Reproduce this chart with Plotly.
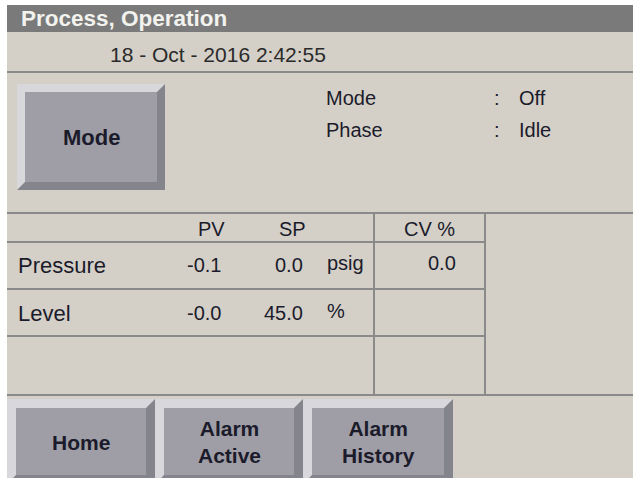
import plotly.graph_objects as go

# ---------------- data ----------------
title_text = "Process, Operation"
timestamp = "18 - Oct - 2016 2:42:55"
mode_button_label = "Mode"
status_labels = ["Mode", "Phase"]
status_values = ["Off", "Idle"]
table_columns = ["PV", "SP", "CV %"]
row_labels = ["Pressure", "Level"]
pv_values = [-0.1, -0.0]
sp_values = [0.0, 45.0]
row_units = ["psig", "%"]
cv_values = [0.0, None]
nav_buttons = ["Home", "Alarm<br>Active", "Alarm<br>History"]

# ---------------- styling ----------------
W, H = 633, 478
FONT = "Liberation Sans, Arial, sans-serif"
TXT = "#1b1b2b"
PANEL = "#d4d0c8"
TITLEBAR = "#7a7a7a"
LINE = "#8a8a8a"
FACE = "#9f9ea6"
LIGHT = "#d8d8dc"
DARK = "#84848c"

shapes = []
annotations = []


def rect(x0, y0, x1, y1, fill, line_color=None, lw=0):
    shapes.append(dict(type="rect", xref="x", yref="y", x0=x0, y0=y0, x1=x1, y1=y1,
                       fillcolor=fill, line=dict(width=lw, color=line_color or fill),
                       layer="below"))


def hline(x0, x1, y, color=LINE, w=2):
    shapes.append(dict(type="line", xref="x", yref="y", x0=x0, x1=x1, y0=y, y1=y,
                       line=dict(color=color, width=w), layer="above"))


def vline(x, y0, y1, color=LINE, w=2):
    shapes.append(dict(type="line", xref="x", yref="y", x0=x, x1=x, y0=y0, y1=y1,
                       line=dict(color=color, width=w), layer="above"))


def poly(pts, fill):
    p = "M " + " L ".join(f"{x},{y}" for x, y in pts) + " Z"
    shapes.append(dict(type="path", xref="x", yref="y", path=p, fillcolor=fill,
                       line=dict(width=0), layer="above"))


def bevel_button(x0, y0, x1, y1, b):
    poly([(x0, y0), (x1, y0), (x1 - b, y0 + b), (x0 + b, y0 + b), (x0 + b, y1 - b), (x0, y1)], LIGHT)
    poly([(x1, y0), (x1, y1), (x0, y1), (x0 + b, y1 - b), (x1 - b, y1 - b), (x1 - b, y0 + b)], DARK)
    poly([(x0 + b, y0 + b), (x1 - b, y0 + b), (x1 - b, y1 - b), (x0 + b, y1 - b)], FACE)


def text(x, y, s, size=20, anchor="left", bold=False, color=TXT):
    if bold:
        s = f"<b>{s}</b>"
    annotations.append(dict(x=x, y=y, xref="x", yref="y", text=s, showarrow=False,
                            xanchor=anchor, yanchor="middle",
                            font=dict(family=FONT, size=size, color=color)))


# background panel & title bar
rect(7, 5, W, H, PANEL)
rect(7, 5, W, 32, TITLEBAR)
text(19, 18.5, title_text, size=22.5, bold=True, color="#f2f2ee")
text(218, 54, timestamp, size=21, anchor="center", color="#2a2a2a")

# separator lines
hline(7, W, 72)
hline(7, W, 213)
for yy in [242, 289, 336]:
    hline(7, 485, yy)
hline(7, W, 395)
vline(374, 213, 395)
vline(485, 213, 395)

# Mode button
bevel_button(17, 84, 165, 190, 8)
text(91, 137, mode_button_label, size=22, anchor="center", bold=True)

# status block
for i, (lab, val) in enumerate(zip(status_labels, status_values)):
    yy = 98 + i * 32
    text(324, yy, lab, size=20)
    text(497, yy, ":", size=20, anchor="center")
    text(517, yy, val, size=20)

# table header
col_x = [211, 292, 429]
for cx, c in zip(col_x, table_columns):
    text(cx, 229, c, size=20, anchor="center")

# table rows
row_y = [265, 313]
for i, yy in enumerate(row_y):
    text(16, yy, row_labels[i], size=22)
    text(223, yy, f"{pv_values[i]:.1f}", size=20, anchor="right")
    text(305, yy, f"{sp_values[i]:.1f}", size=20, anchor="right")
    text(325, yy - 2, row_units[i], size=20)
    if cv_values[i] is not None:
        text(458, yy - 2, f"{cv_values[i]:.1f}", size=20, anchor="right")

# navigation buttons
btn_x = [(7, 155), (155, 303), (303, 453)]
for (bx0, bx1), lab in zip(btn_x, nav_buttons):
    bevel_button(bx0, 399, bx1, 484, 9)
    text((bx0 + bx1) / 2, 442, lab, size=21, anchor="center", bold=True)

fig = go.Figure()
fig.update_layout(
    width=W, height=H,
    margin=dict(l=0, r=0, t=0, b=0),
    paper_bgcolor="white", plot_bgcolor="white",
    xaxis=dict(range=[0, W], visible=False, fixedrange=True),
    yaxis=dict(range=[H, 0], visible=False, fixedrange=True),
    shapes=shapes, annotations=annotations,
    showlegend=False,
)
fig.write_html("out.html", config={"displayModeBar": False},
               post_script="document.body.style.margin='0';document.body.style.overflow='hidden';")
